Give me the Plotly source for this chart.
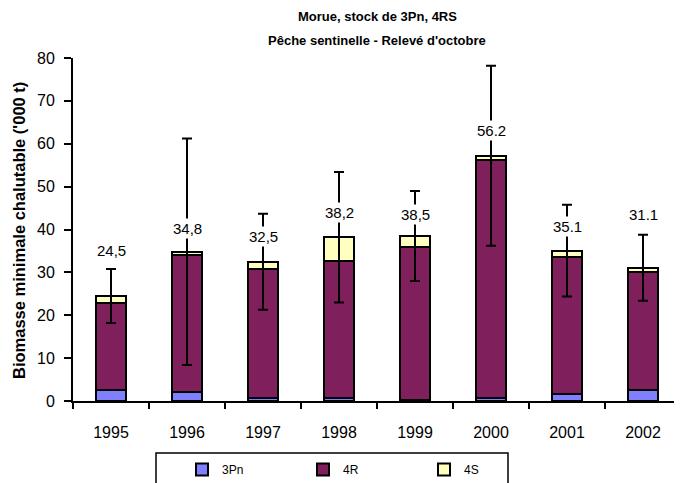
import plotly.graph_objects as go

years = ["1995", "1996", "1997", "1998", "1999", "2000", "2001", "2002"]
v_3pn = [2.6, 2.2, 0.7, 0.8, 0.3, 0.8, 1.7, 2.6]
v_4r = [20.2, 31.8, 30.0, 31.8, 35.6, 55.5, 31.8, 27.5]
v_4s = [1.7, 0.8, 1.8, 5.6, 2.6, 0.9, 1.6, 1.0]
err = [6.3, 26.4, 11.2, 15.2, 10.5, 21.0, 10.7, 7.7]
total_labels = ["24,5", "34,8", "32,5", "38,2", "38,5", "56.2", "35.1", "31.1"]
label_y = [35.0, 40.3, 38.3, 43.9, 43.4, 63.0, 40.6, 43.4]
y_ticks = [0, 10, 20, 30, 40, 50, 60, 70, 80]

FONT = "Arial, Liberation Sans, sans-serif"
totals = [a + b + c for a, b, c in zip(v_3pn, v_4r, v_4s)]

# page body has an 8px margin, so the figure is drawn 8px smaller
W, H = 674, 475
L, T, R, B = 65, 50, 1, 82
PH = H - T - B
PW = W - L - R

def px_x(page_x):
    return (page_x - 8 - L) / PW

def px_y(page_y):
    return (T + PH - (page_y - 8)) / PH

fig = go.Figure()
line = dict(color="black", width=2)
fig.add_trace(go.Bar(x=years, y=v_3pn, name="3Pn", marker=dict(color="#8080FF", line=line)))
fig.add_trace(go.Bar(x=years, y=v_4r, name="4R", marker=dict(color="#7F1F5C", line=line)))
fig.add_trace(go.Bar(x=years, y=v_4s, name="4S", marker=dict(color="#FFFFC0", line=line)))
fig.add_trace(go.Scatter(
    x=years, y=totals, mode="markers", marker=dict(opacity=0, size=1),
    showlegend=False, hoverinfo="skip",
    error_y=dict(type="data", array=err, visible=True, color="black", thickness=2, width=5),
))

# annotations on a category axis are positioned by category index
for i, (txt, ly) in enumerate(zip(total_labels, label_y)):
    fig.add_annotation(x=i, y=ly, text=txt, showarrow=False, bgcolor="white",
                       font=dict(family=FONT, size=15, color="black"), borderpad=1)

fig.add_annotation(xref="paper", yref="paper", x=0.5, y=px_y(17),
                   xanchor="center", yanchor="middle",
                   text="<b>Morue, stock de 3Pn, 4RS</b>", showarrow=False,
                   font=dict(family=FONT, size=13, color="black"))
fig.add_annotation(xref="paper", yref="paper", x=0.5, y=px_y(40),
                   xanchor="center", yanchor="middle",
                   text="<b>Pêche sentinelle - Relevé d'octobre</b>", showarrow=False,
                   font=dict(family=FONT, size=13, color="black"))
fig.add_annotation(xref="paper", yref="paper", x=px_x(19), y=px_y(231),
                   xanchor="center", yanchor="middle", textangle=-90,
                   text="<b>Biomasse minimale chalutable ('000 t)</b>", showarrow=False,
                   font=dict(family=FONT, size=16.5, color="black"))

# legend frame
fig.add_shape(type="rect", xref="paper", yref="paper",
              x0=px_x(156), x1=px_x(508), y0=px_y(495), y1=px_y(453),
              line=dict(color="black", width=1.5), fillcolor="rgba(0,0,0,0)")

fig.update_layout(
    width=W, height=H,
    margin=dict(l=L, r=R, t=T, b=B, autoexpand=False),
    paper_bgcolor="white", plot_bgcolor="white",
    barmode="stack", bargap=0.6,
    font=dict(family=FONT, color="black"),
    showlegend=True,
    legend=dict(orientation="h", x=px_x(182), xanchor="left", y=px_y(455), yanchor="top",
                borderwidth=0, bgcolor="rgba(0,0,0,0)", font=dict(size=12),
                itemwidth=30, entrywidth=76, traceorder="normal"),
)
fig.update_xaxes(type="category", categoryorder="array", categoryarray=years,
                 range=[-0.5, len(years) - 0.5],
                 showline=True, linecolor="black", linewidth=2, ticks="outside",
                 tickson="boundaries", ticklen=6, tickwidth=2, tickcolor="black",
                 ticklabelstandoff=16,
                 tickfont=dict(size=16), tickangle=0, showgrid=False, automargin=False)
fig.update_yaxes(range=[0, 80], tickvals=y_ticks, showline=True, linecolor="black",
                 linewidth=2, ticks="outside", ticklen=7, tickwidth=2, tickcolor="black",
                 ticklabelstandoff=6,
                 tickfont=dict(size=16), showgrid=False, zeroline=False, automargin=False)

fig.write_html("out.html")
